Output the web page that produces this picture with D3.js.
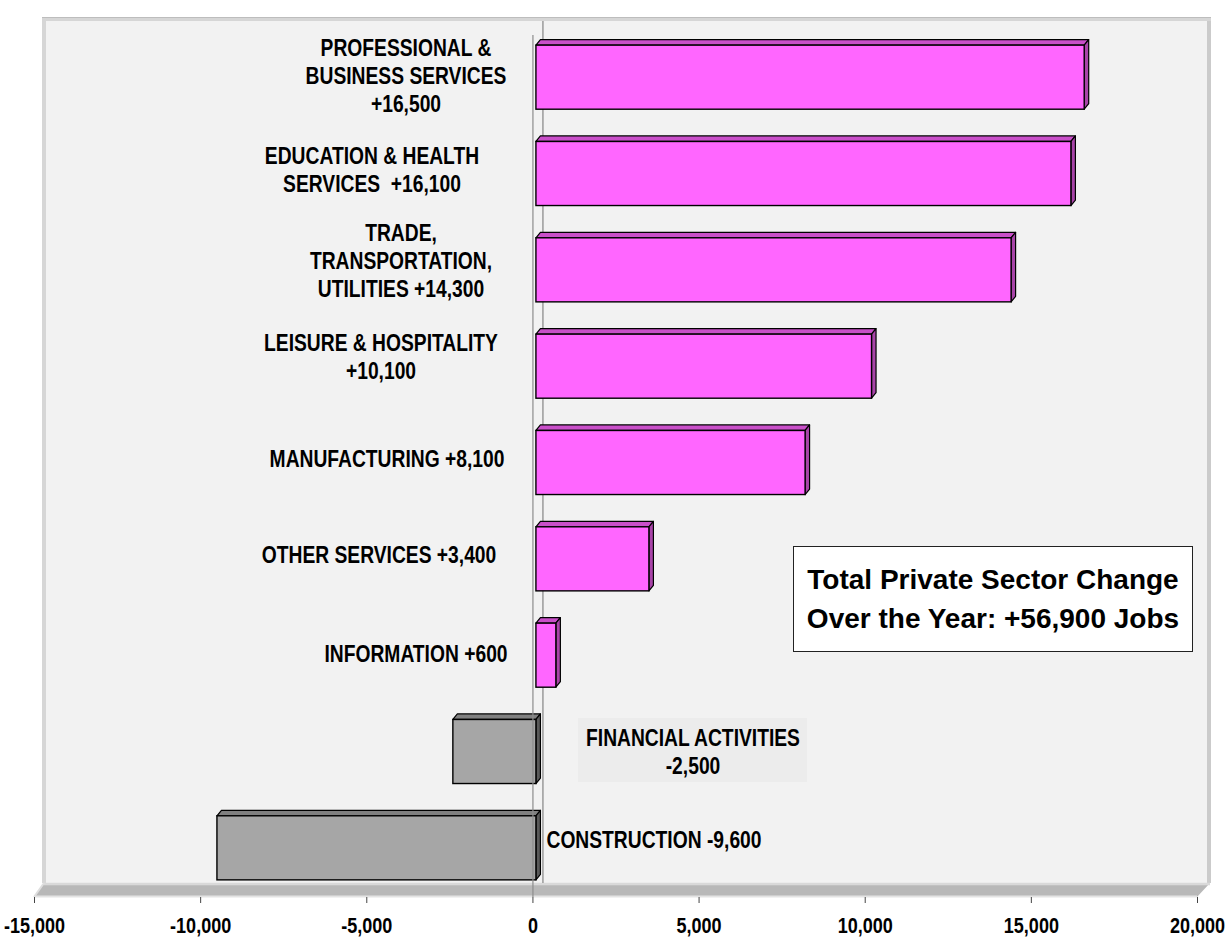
<!DOCTYPE html>
<html>
<head>
<meta charset="utf-8">
<script src="https://cdn.jsdelivr.net/npm/d3@7"></script>
<style>
  body { margin: 0; background: #fff; }
  svg { display: block; }
  .lbl { font-family: "Liberation Sans", Arial, sans-serif; font-weight: bold; white-space: pre; }
</style>
</head>
<body>
<svg id="chart"></svg>
<script>
// data
const sectors = ["Professional & Business Services", "Education & Health Services", "Trade, Transportation, Utilities",
  "Leisure & Hospitality", "Manufacturing", "Other Services", "Information", "Financial Activities", "Construction"]
const changes = [16500, 16100, 14300, 10100, 8100, 3400, 600, -2500, -9600]
const labelLines = [
  ["PROFESSIONAL &", "BUSINESS SERVICES", "+16,500"],
  ["EDUCATION & HEALTH", "SERVICES  +16,100"],
  ["TRADE,", "TRANSPORTATION,", "UTILITIES +14,300"],
  ["LEISURE & HOSPITALITY", "+10,100"],
  ["MANUFACTURING +8,100"],
  ["OTHER SERVICES +3,400"],
  ["INFORMATION +600"],
  ["FINANCIAL ACTIVITIES", "-2,500"],
  ["CONSTRUCTION -9,600"]
]
const xTicks = [-15000, -10000, -5000, 0, 5000, 10000, 15000, 20000]
const summaryLines = ["Total Private Sector Change", "Over the Year: +56,900 Jobs"]

// layout: where each label block sits (center x, vertical shift from bar center)
const labelLayout = [
  {cx: 406, dy: -2}, {cx: 372, dy: -4}, {cx: 401, dy: -9}, {cx: 381, dy: -10}, {cx: 387, dy: -4},
  {cx: 379, dy: -4}, {cx: 416, dy: -2}, {cx: 693, dy: 0}, {cx: 654, dy: -8}
]
const narrow = 0.82  // no condensed font installed, squeeze bold sans instead

const W = 1228, H = 950
const svg = d3.select("#chart").attr("width", W).attr("height", H)

const x = d3.scaleLinear().domain([-15000, 20000]).range([34, 1197])
const y = d3.scaleBand().domain(sectors).range([29, 896]).paddingInner(0.335).paddingOuter(0.1675)

const floorY = 897, depthX = 10, depthY = 14
const barDx = 4.5, barDy = 5.5, barShift = 3.5

// back wall
svg.append("rect").attr("x", 42).attr("y", 17).attr("width", 1169).attr("height", floorY - depthY - 17)
  .attr("fill", "#d6d6d6")
svg.append("line").attr("x1", 42).attr("x2", 1211).attr("y1", 17.5).attr("y2", 17.5).attr("stroke", "#bdbdbd")
svg.append("rect").attr("x", 46).attr("y", 21).attr("width", 1161).attr("height", floorY - depthY - 21)
  .attr("fill", "#f2f2f2")
svg.append("rect").attr("x", 1207).attr("y", 21).attr("width", 4).attr("height", floorY - depthY - 21)
  .attr("fill", "#cbcbcb")

// floor
const x0 = x.range()[0], x1 = x.range()[1]
svg.append("polygon")
  .attr("points", [[x0, floorY], [x0 + depthX, floorY - depthY], [x1 + depthX + 3, floorY - depthY], [x1, floorY]].join(" "))
  .attr("fill", "#b8b8b8")
svg.append("line").attr("x1", x0 + depthX).attr("x2", x1 + depthX + 3)
  .attr("y1", floorY - depthY + 1).attr("y2", floorY - depthY + 1).attr("stroke", "#d9d9d9").attr("stroke-width", 2.5)
svg.append("line").attr("x1", x0).attr("x2", x1)
  .attr("y1", floorY - 0.5).attr("y2", floorY - 0.5).attr("stroke", "#e3e3e3").attr("stroke-width", 2)
svg.append("line").attr("x1", x0).attr("y1", floorY).attr("x2", x0 + depthX).attr("y2", floorY - depthY)
  .attr("stroke", "#dedede").attr("stroke-width", 2)

// back zero line
svg.append("line").attr("x1", x(0) + depthX + 0.5).attr("x2", x(0) + depthX + 0.5)
  .attr("y1", 21).attr("y2", floorY - depthY).attr("stroke", "#9a9a9a").attr("stroke-width", 1.5)

// financial activities label backdrop
svg.append("rect").attr("x", 578).attr("y", 718).attr("width", 229).attr("height", 64).attr("fill", "#ececec")

// bars
const bars = svg.append("g").selectAll("g").data(sectors).join("g")
bars.each(function(d, i) {
  const v = changes[i]
  const g = d3.select(this)
  const bx0 = x(Math.min(0, v)) + barShift, bx1 = x(Math.max(0, v)) + barShift
  const by = y(d), bh = y.bandwidth()
  const pos = v >= 0
  const front = pos ? "#ff66ff" : "#a6a6a6"
  const top = pos ? "#c94fc9" : "#808080"
  const side = pos ? "#a844a8" : "#5a5a5a"
  g.append("polygon")
    .attr("points", [[bx0, by], [bx0 + barDx, by - barDy], [bx1 + barDx, by - barDy], [bx1, by]].join(" "))
    .attr("fill", top).attr("stroke", "#000").attr("stroke-width", 1.2).attr("stroke-linejoin", "round")
  g.append("polygon")
    .attr("points", [[bx1, by], [bx1 + barDx, by - barDy], [bx1 + barDx, by + bh - barDy], [bx1, by + bh]].join(" "))
    .attr("fill", side).attr("stroke", "#000").attr("stroke-width", 1.2).attr("stroke-linejoin", "round")
  g.append("rect").attr("x", bx0).attr("y", by).attr("width", bx1 - bx0).attr("height", bh)
    .attr("fill", front).attr("stroke", "#000").attr("stroke-width", 1.4)
})

// front zero line
svg.append("line").attr("x1", x(0) + 0.5).attr("x2", x(0) + 0.5)
  .attr("y1", 35).attr("y2", floorY).attr("stroke", "#8c8c8c").attr("stroke-width", 1.2)

// x axis
const fmt = d3.format(",")
svg.append("g")
  .attr("transform", `translate(0, ${floorY})`)
  .call(d3.axisBottom(x).tickValues(xTicks).tickFormat(d => fmt(d).replace("\u2212", "-")).tickSize(6).tickPadding(14))
  .call(g => g.select(".domain").remove())
  .call(g => g.selectAll(".tick line").attr("stroke", "#444"))
  .call(g => g.selectAll(".tick text").attr("class", "lbl").attr("fill", "#000")
    .attr("transform", `scale(${narrow},1)`).style("font-size", "22px"))

// data labels
const lineH = 28, fs = 23.5
const labels = svg.append("g").selectAll("text").data(sectors).join("text")
  .attr("class", "lbl")
  .attr("text-anchor", "middle")
  .attr("transform", (d, i) => `translate(${labelLayout[i].cx},0) scale(${narrow},1)`)
  .style("font-size", fs + "px")
  .attr("fill", "#000")
labels.each(function(d, i) {
  const lines = labelLines[i]
  const cy = y(d) + y.bandwidth() / 2 + labelLayout[i].dy
  const firstBase = cy - (lines.length - 1) * lineH / 2 + fs * 0.36
  d3.select(this).selectAll("tspan").data(lines).join("tspan")
    .attr("x", 0)
    .attr("y", (l, k) => firstBase + k * lineH)
    .text(l => l)
})

// summary box
const box = svg.append("g")
box.append("rect").attr("x", 793.5).attr("y", 546.5).attr("width", 399).attr("height", 105)
  .attr("fill", "#fff").attr("stroke", "#222").attr("stroke-width", 1)
box.selectAll("text").data(summaryLines).join("text")
  .attr("x", 993).attr("y", (d, i) => 589 + i * 38.5)
  .attr("text-anchor", "middle")
  .style("font-family", "'Liberation Sans', Arial, sans-serif")
  .style("font-weight", "bold").style("font-size", "28px")
  .text(d => d)
</script>
</body>
</html>
